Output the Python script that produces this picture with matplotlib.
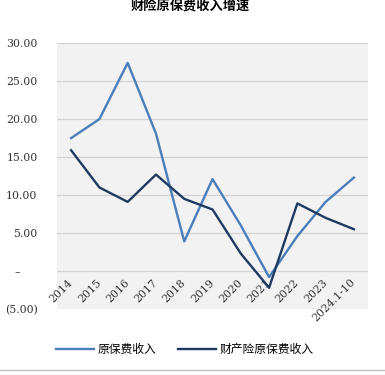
import matplotlib.pyplot as plt
from matplotlib.lines import Line2D

plt.rcParams['font.family'] = ['DejaVu Serif', 'Noto Sans CJK SC', 'DejaVu Sans']

# 数据
years = ['2014', '2015', '2016', '2017', '2018', '2019', '2020', '2021', '2022', '2023', '2024.1-10']
total = [17.5, 20.0, 27.4, 18.1, 3.9, 12.1, 6.0, -0.8, 4.6, 9.1, 12.3]       # 原保费收入
property_ins = [15.9, 11.0, 9.1, 12.7, 9.5, 8.1, 2.3, -2.2, 8.9, 7.0, 5.5]  # 财产险原保费收入
yticks = [-5, 0, 5, 10, 15, 20, 25, 30]
ylabels = ['(5.00)', '–     ', '5.00', '10.00', '15.00', '20.00', '25.00', '30.00']

fig = plt.figure(figsize=(3.85, 3.75), dpi=100)
ax = fig.add_axes([0.148, 0.176, 0.808, 0.709])
ax.set_facecolor('#f2f2f2')

x = range(len(years))
ax.plot(x, total, color='#4a7ebb', lw=1.7, label='原保费收入')
ax.plot(x, property_ins, color='#1f3a60', lw=1.7, label='财产险原保费收入')

ax.set_ylim(-5, 30)
ax.set_xlim(-0.5, len(years) - 0.5)
ax.set_yticks(yticks)
ax.set_yticklabels(ylabels, fontsize=7.8, color='#333333')
ax.grid(axis='y', color='#d4d4d4', lw=0.9)
ax.set_axisbelow(True)

for s in ['top', 'right', 'left']:
    ax.spines[s].set_visible(False)
# x轴放在0的位置
ax.spines['bottom'].set_position(('data', 0))
ax.spines['bottom'].set_color('none')
ax.set_xticks(list(x))
ax.set_xticklabels(years, fontsize=7.8, rotation=45, ha='right', va='center',
                   rotation_mode='anchor', color='#333333')
ax.tick_params(axis='both', length=0)
ax.tick_params(axis='x', pad=7)
ax.tick_params(axis='y', pad=14)

fig.text(0.495, 1.0, '财险原保费收入增速', ha='center', va='top', fontsize=9.5,
         fontweight='bold', family=['Noto Sans CJK SC'])

handles = [Line2D([], [], color='#4a7ebb', lw=1.7), Line2D([], [], color='#1f3a60', lw=1.7)]
fig.legend(handles, ['原保费收入', '财产险原保费收入'], loc='center', bbox_to_anchor=(0.48, 0.067),
           ncol=2, frameon=False, handlelength=3.2, handletextpad=0.3,
           columnspacing=1.8, prop={'family': ['Noto Sans CJK SC'], 'size': 8.5})

fig.add_artist(Line2D([0, 1], [0.013, 0.013], color='#bfbfbf', lw=1))

fig.savefig('out.png')
